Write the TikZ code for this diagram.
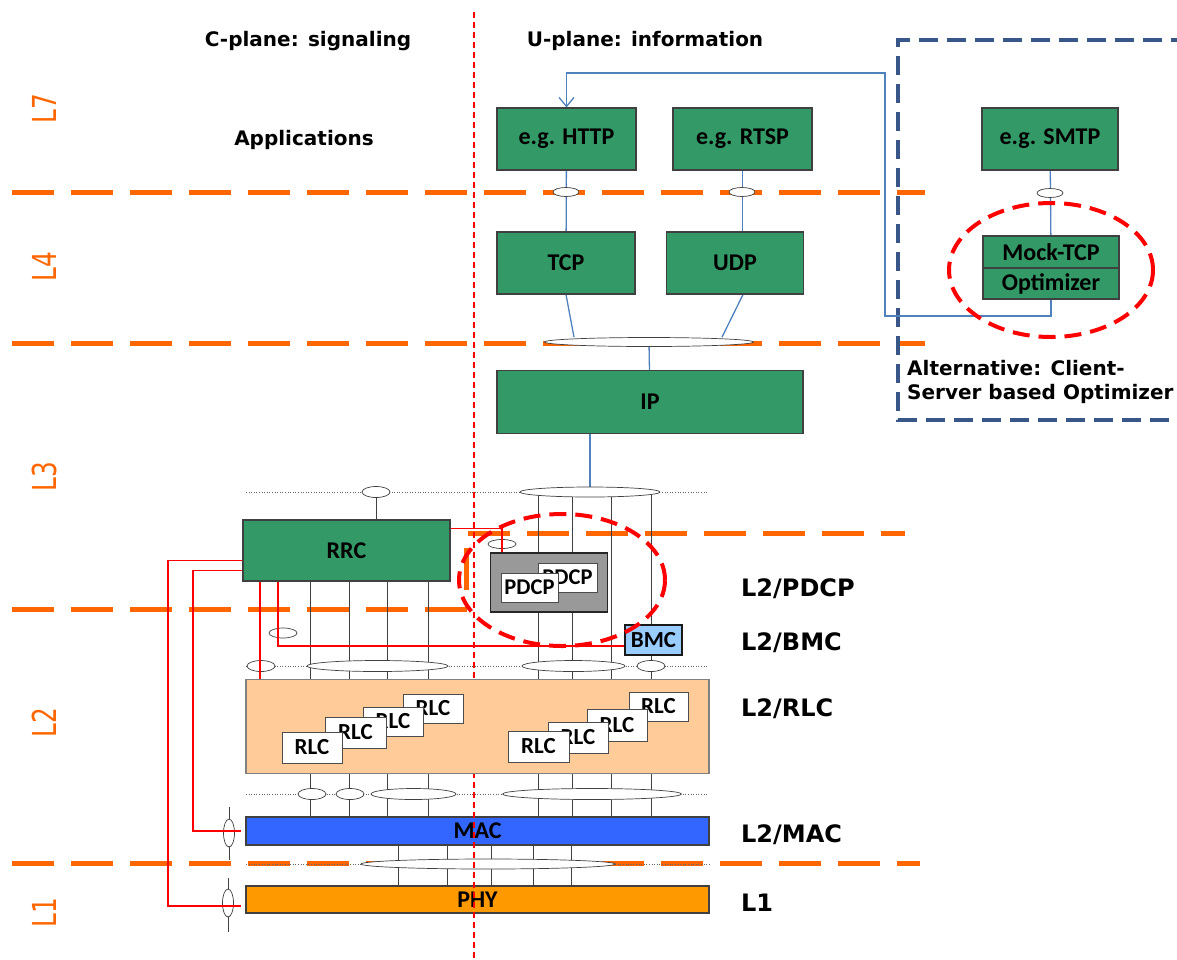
\documentclass[tikz,border=0pt]{standalone}
\usepackage{fontspec}
\usepackage{graphicx}
\usetikzlibrary{shapes.geometric,arrows.meta,calc}
\newfontfamily\carlito{Carlito}
\newfontfamily\dejavu{DejaVu Sans}
\newcommand{\myfs}[1]{\fontsize{#1}{#1}\selectfont}
\definecolor{boxgreen}{RGB}{51,153,102}
\definecolor{laborange}{RGB}{255,102,0}
\definecolor{ublue}{RGB}{79,129,189}
\definecolor{altblue}{RGB}{56,86,136}
\definecolor{rlcpeach}{RGB}{255,204,153}
\definecolor{macblue}{RGB}{51,102,255}
\definecolor{phyorange}{RGB}{255,153,0}
\definecolor{bmcblue}{RGB}{153,204,255}
\definecolor{pdcpgray}{RGB}{153,153,153}
\pgfdeclarelayer{back}
\pgfdeclarelayer{lines}
\pgfdeclarelayer{redline}
\pgfdeclarelayer{top}
\pgfsetlayers{back,lines,main,redline,top}
\begin{document}
\begin{tikzpicture}[x=1pt,y=-1pt,
  sz/.style 2 args={minimum width=#1pt,minimum height=#2pt},
  greenbox/.style={draw=black!75,line width=1.1pt,fill=boxgreen,inner sep=0pt,font=\carlito\bfseries\myfs{24}},
  smallbox/.style={draw=black!70,line width=1pt,fill=white,inner sep=0pt,font=\carlito\bfseries\myfs{22.5}},
  barbox/.style={draw=black!75,line width=1.1pt,inner sep=0pt,font=\carlito\bfseries\myfs{24}},
  ell/.style 2 args={ellipse,draw=black!75,fill=white,line width=0.7pt,inner sep=0pt,minimum width=#1pt,minimum height=#2pt},
  conn/.style={draw=black!75,line width=0.8pt},
  ul/.style={draw=ublue,line width=1.3pt},
  sig/.style={draw=red,line width=1.5pt},
  dotline/.style={draw=black!60,line width=0.6pt,dotted},
  lyrline/.style={draw=laborange,line width=5pt,dash pattern=on 42pt off 17pt},
  hdr/.style={font=\dejavu\bfseries\myfs{20},inner sep=0pt},
  rlab/.style={anchor=west,font=\dejavu\bfseries\myfs{24},inner sep=0pt},
  laylab/.style={rotate=90,text=laborange,font=\dejavu\myfs{33},inner sep=0pt},
  redell/.style={draw=red,line width=4pt,dash pattern=on 17pt off 9pt}
]
\useasboundingbox (0,0) rectangle (1177,959);

% ---------- column coordinates ----------
\coordinate (c1) at (310,0);
\coordinate (c2) at (349,0);
\coordinate (c3) at (387,0);
\coordinate (c4) at (428,0);
\coordinate (c5) at (538,0);
\coordinate (c6) at (572,0);
\coordinate (c7) at (611,0);
\coordinate (c8) at (651,0);
\coordinate (m1) at (398,0);
\coordinate (m2) at (447,0);
\coordinate (m3) at (491,0);
\coordinate (m4) at (533,0);
\coordinate (m5) at (571,0);
\coordinate (r1) at (260,0);
\coordinate (r2) at (278,0);
\coordinate (fb1) at (885,316);
\coordinate (fb2) at (885,73);
\coordinate (phyL) at (168,906);
\coordinate (macL) at (193,831);

% ---------- boxes ----------
\node[greenbox,sz={139}{62}] (http) at (566.5,139) {e.g. HTTP};
\node[greenbox,sz={139}{62}] (rtsp) at (742.5,139) {e.g. RTSP};
\node[greenbox,sz={136}{62}] (smtp) at (1050,139) {e.g. SMTP};
\node[greenbox,sz={138}{62}] (tcp) at (566,263) {TCP};
\node[greenbox,sz={137}{62}] (udp) at (735,263) {UDP};
\node[greenbox,sz={306}{63}] (ip) at (650,402) {IP};
\node[greenbox,sz={136}{32}] (mock) at (1051,252) {Mock-TCP};
\node[greenbox,sz={136}{31}] (optim) at (1051,283.5) {Optimizer};
\node[greenbox,sz={207}{61}] (rrc) at (346.5,550.5) {RRC};

\node[draw=black!85,line width=1.2pt,fill=pdcpgray,inner sep=0pt,sz={117}{59}] (pdcpbg) at (549,582.5) {};
\node[smallbox,sz={59}{29}] (pdcpb) at (567.5,577.5) {PDCP};
\node[smallbox,sz={57}{29}] (pdcpf) at (529.5,587.5) {PDCP};
\node[draw=black!90,line width=1.8pt,fill=bmcblue,inner sep=0pt,sz={57}{30},font=\carlito\bfseries\myfs{23}] (bmc) at (653.5,640) {BMC};

\node[barbox,fill=macblue,sz={463}{28}] (mac) at (477.5,831) {MAC};
\node[barbox,fill=phyorange,sz={463}{27}] (phy) at (477.5,899.5) {PHY};

% ---------- RLC layer (on top) ----------
\begin{pgfonlayer}{top}
  \node[draw=black!50,line width=1.2pt,fill=rlcpeach,inner sep=0pt,sz={463}{94}] (rlc) at (477.5,726.5) {};
  \node[smallbox,sz={60}{29},font=\carlito\bfseries\myfs{23}] (rl4) at (433,708.5) {RLC};
  \node[smallbox,sz={60}{29},font=\carlito\bfseries\myfs{23}] (rl3) at (393,721.5) {RLC};
  \node[smallbox,sz={61}{31},font=\carlito\bfseries\myfs{23}] (rl2) at (355.5,732.5) {RLC};
  \node[smallbox,sz={60}{31},font=\carlito\bfseries\myfs{23}] (rl1) at (312,747.5) {RLC};
  \node[smallbox,sz={59}{29},font=\carlito\bfseries\myfs{23}] (rr4) at (658.5,706.5) {RLC};
  \node[smallbox,sz={60}{32},font=\carlito\bfseries\myfs{23}] (rr3) at (617,725) {RLC};
  \node[smallbox,sz={60}{31},font=\carlito\bfseries\myfs{23}] (rr2) at (578,737.5) {RLC};
  \node[smallbox,sz={61}{31},font=\carlito\bfseries\myfs{23}] (rr1) at (538.5,746.5) {RLC};
  \draw[redell] (562,580) ellipse [x radius=103pt,y radius=66pt];
  \draw[redell] (1051,270) ellipse [x radius=102pt,y radius=67pt];
\end{pgfonlayer}

% ---------- ellipses ----------
\node[ell={26}{9}] (e1) at (566,192) {};
\node[ell={26}{9}] (e2) at (742,192) {};
\node[ell={26}{9}] (e3) at (1050,193) {};
\node[ell={209}{9}] (eIP) at (649,342) {};
\node[ell={140}{10}] (eL3) at (590,492) {};
\node[ell={28}{11}] (eRRC) at (376,492) {};
\node[ell={28}{9}] (ePDCP) at (502,544) {};
\node[ell={28}{10}] (eBMCs) at (283,633) {};
\node[ell={28}{11}] (e666a) at (261,666) {};
\node[ell={141}{11}] (e666b) at (377.5,666) {};
\node[ell={103}{11}] (e666c) at (573.5,666) {};
\node[ell={28}{11}] (e666d) at (651,666) {};
\node[ell={28}{11}] (e794a) at (312,794) {};
\node[ell={28}{11}] (e794b) at (350,794) {};
\node[ell={85}{11}] (e794c) at (413.5,794) {};
\node[ell={179}{11}] (e794d) at (592,794) {};
\node[ell={254}{10}] (e864) at (488,864) {};
\node[ell={11}{28}] (eMACs) at (229,833) {};
\node[ell={11}{28}] (ePHYs) at (228,903) {};

% ---------- texts ----------
\node[hdr] (cplane) at (308,41) {C-plane: signaling};
\node[hdr] (uplane) at (645,41) {U-plane: information};
\node[hdr] (apps) at (304,140) {Applications};
\node[hdr,anchor=west,align=left,font=\dejavu\bfseries\fontsize{20}{24}\selectfont] (alt) at (907,382) {Alternative: Client-\\Server based Optimizer};
\node[rlab] (tpdcp) at (741,589) {L2/PDCP};
\node[rlab] (tbmc) at (741,643) {L2/BMC};
\node[rlab] (trlc) at (741,709) {L2/RLC};
\node[rlab] (tmac) at (741,835) {L2/MAC};
\node[rlab] (tl1) at (741,903) {L1};
\node[laylab] (l7) at (44,109) {\scalebox{0.75}[1]{L7}};
\node[laylab] (l4) at (44,267) {\scalebox{0.75}[1]{L4}};
\node[laylab] (l3) at (44,477) {\scalebox{0.75}[1]{L3}};
\node[laylab] (l2) at (44,723) {\scalebox{0.75}[1]{L2}};
\node[laylab] (l1) at (44,913) {\scalebox{0.75}[1]{L1}};

% ---------- background: layer boundaries, dotted lines, alt box ----------
\begin{pgfonlayer}{back}
  \draw[lyrline] (12,192) -- (925,192);
  \draw[lyrline] (12,343) -- (925,343);
  \draw[lyrline] (468,533) -- (905,533);
  \draw[lyrline,dash phase=44pt] (466,533) -- (466,609);
  \draw[lyrline] (12,609) -- (470,609);
  \draw[lyrline] (12,863) -- (920,863);
  \draw[draw=altblue,line width=3.5pt,dash pattern=on 19pt off 9pt] (1190,40) -- (898,40) -- (898,420) -- (1190,420);
  \draw[dotline] (246,492) -- (707,492);
  \draw[dotline] (246,666) -- (707,666);
  \draw[dotline] (246,794) -- (707,794);
  \draw[dotline] (246,864) -- (710,864);
\end{pgfonlayer}

% ---------- connectors ----------
\begin{pgfonlayer}{lines}
  % U-plane (blue)
  \draw[ul] (http) -- (tcp);
  \draw[ul] (rtsp.south) -- (rtsp.south |- udp.north);
  \draw[ul] (smtp) -- (mock);
  \draw[ul] (tcp.south) -- ([xshift=-75pt]eIP.north);
  \draw[ul] ([xshift=8pt]udp.south) -- ([xshift=73pt]eIP.north);
  \draw[ul] (eIP) -- (ip);
  \draw[ul] (eL3.north |- ip.south) -- (eL3);
  \draw[ul,-{Straight Barb[length=9pt,width=15pt]}] (optim.south) |- (fb1) -- (fb2) -| (http.north);
  % grey channels
  \draw[conn] (eRRC.south) -- (eRRC.south |- rrc.north);
  \foreach \c in {c1,c2,c3,c4} \draw[conn] (rrc.south -| \c) -- (e666b -| \c);
  \foreach \c in {c5,c6} {
    \draw[conn] (eL3 -| \c) -- (pdcpbg.north -| \c);
    \draw[conn] (pdcpbg.south -| \c) -- (e666c -| \c);
  }
  \draw[conn] (eL3 -| c7) -- (e666c -| c7);
  \draw[conn] (eL3 -| c8) -- (bmc.north -| c8);
  \draw[conn] (bmc.south -| c8) -- (e666d -| c8);
  \foreach \c in {c1,c2,c3,c4,c5,c6,c7,c8} {
    \draw[conn] (e666b -| \c) -- (rlc.north -| \c);
    \draw[conn] (rlc.south -| \c) -- (mac.north -| \c);
  }
  \foreach \c in {m1,m2,m3,m4,m5} \draw[conn] (mac.south -| \c) -- (phy.north -| \c);
  \draw[conn] ([yshift=12pt]eMACs.north) -- ([yshift=-13pt]eMACs.south);
  \draw[conn] ([yshift=11pt]ePHYs.north) -- ([yshift=-15pt]ePHYs.south);
\end{pgfonlayer}

% ---------- signalling (red) and plane divider ----------
\begin{pgfonlayer}{redline}
  \draw[sig] ([yshift=-9pt]rrc.north east) -| (ePDCP.center |- pdcpbg.north);
  \draw[sig] ([yshift=-41pt]rrc.north west) -| (phyL) -- ([xshift=-4pt,yshift=-6.5pt]phy.west);
  \draw[sig] ([yshift=-51pt]rrc.north west) -| (macL) -- ([xshift=-4pt]mac.west);
  \draw[sig] (rrc.south -| r1) -- (rlc.north -| r1);
  \draw[sig] (rrc.south -| r2) |- ([yshift=-6pt]bmc.west);
  \draw[draw=red,line width=1.8pt,dash pattern=on 6pt off 4pt] (474,12) -- (474,959);
\end{pgfonlayer}
\end{tikzpicture}
\end{document}
